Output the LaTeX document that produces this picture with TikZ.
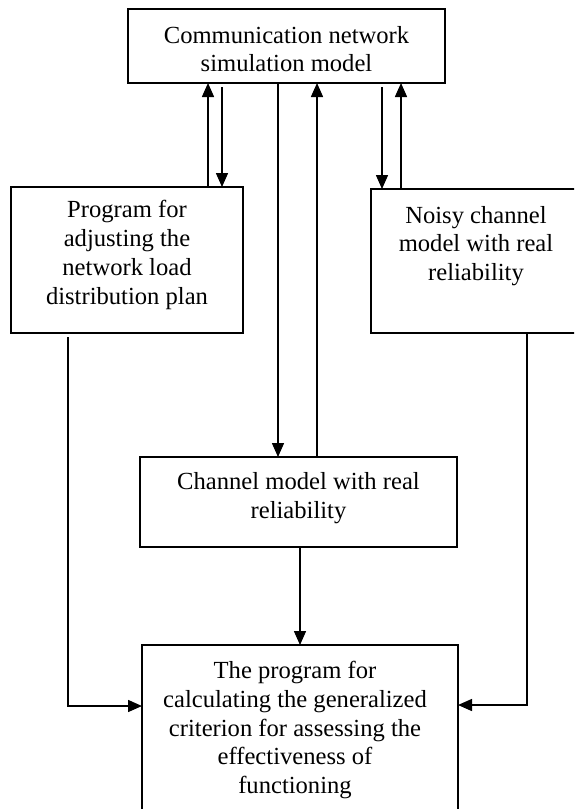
\documentclass[tikz,border=0pt]{standalone}
\usepackage{fontspec}
\setmainfont{Liberation Serif}
\usetikzlibrary{arrows.meta}
\begin{document}
\begin{tikzpicture}[x=0.5pt,y=-0.5pt,
  box/.style={draw, line width=0.75pt, inner sep=0pt, outer sep=0pt},
  lbl/.style={align=center, inner sep=0pt, font=\fontsize{12.3}{14.4}\selectfont},
  conn/.style={line width=0.75pt},
  arr/.style={conn, -{Triangle[length=7pt,width=6pt]}}]
\useasboundingbox (0,0) rectangle (574,809);
\clip (0,0) rectangle (574,809);
% boxes
\node[box, minimum width=158.5pt, minimum height=37pt] (top) at (286.5,46) {};
\node[box, minimum width=116pt, minimum height=73pt] (left) at (127,260) {};
\node[box, minimum width=104.5pt, minimum height=72pt] (right) at (475.5,261) {};
\node[box, minimum width=158.5pt, minimum height=45pt] (mid) at (298.5,502) {};
\node[box, minimum width=158pt, minimum height=92.5pt] (bot) at (300,737.5) {};
% texts
\node[lbl] (topT) at (286.5,49) {Communication network\\simulation model};
\node[lbl] (leftT) at (127,255) {Program for\\adjusting the\\network load\\distribution plan};
\node[lbl] (rightT) at (476,246) {Noisy channel\\model with real\\reliability};
\node[lbl] (midT) at (298.5,498) {Channel model with real\\reliability};
\node[lbl] (botT) at (295,730) {The program for\\calculating the generalized\\criterion for assessing the\\effectiveness of\\functioning};
% x positions of connectors
\coordinate (a1) at (208,0);
\coordinate (a2) at (222,0);
\coordinate (a3) at (278,0);
\coordinate (a4) at (317,0);
\coordinate (a5) at (382,0);
\coordinate (a6) at (401,0);
\coordinate (a7) at (300,0);
\coordinate (a8) at (68,0);
\coordinate (a9) at (527,0);
\coordinate (yA) at (0,706);
\coordinate (yB) at (0,705);
% connectors
\draw[arr] (left.north -| a1) -- (top.south -| a1);
\draw[arr, shorten <=2pt] (top.south -| a2) -- (left.north -| a2);
\draw[arr] (top.south -| a3) -- (mid.north -| a3);
\draw[arr] (mid.north -| a4) -- (top.south -| a4);
\draw[arr, shorten <=2pt] (top.south -| a5) -- (right.north -| a5);
\draw[arr] (right.north -| a6) -- (top.south -| a6);
\draw[arr] (mid.south -| a7) -- (bot.north -| a7);
\draw[arr, shorten <=2pt] (left.south -| a8) |- (bot.west |- yA);
\draw[arr] (right.south -| a9) |- (bot.east |- yB);
\end{tikzpicture}
\end{document}
